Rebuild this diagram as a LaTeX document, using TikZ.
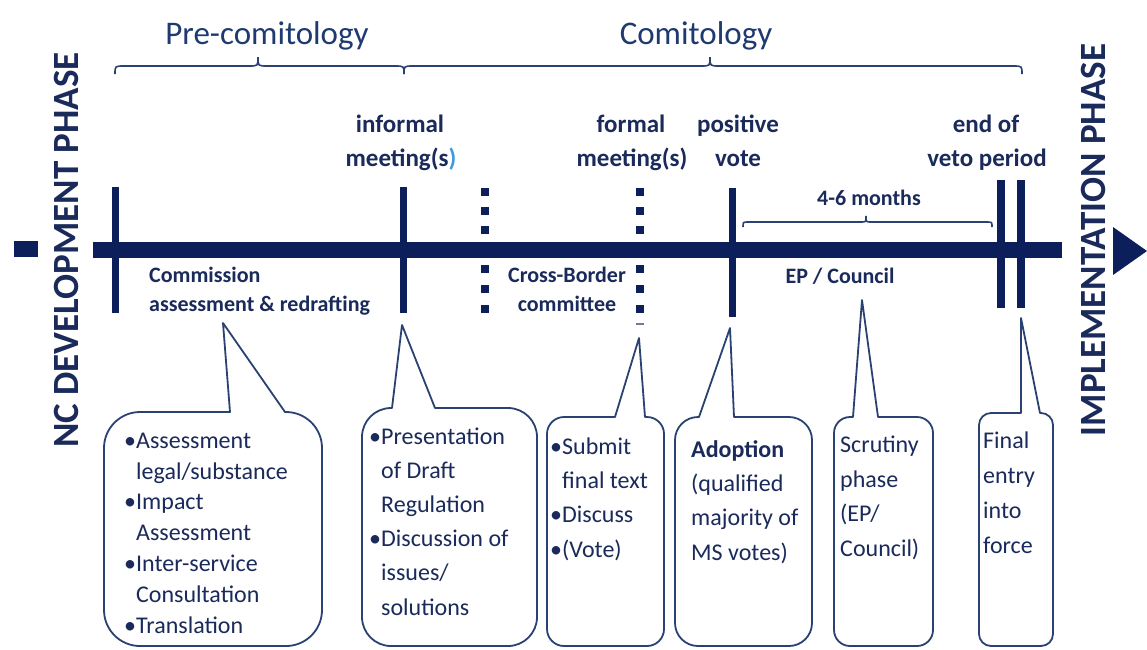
\documentclass[tikz,border=0pt]{standalone}
\usepackage{fontspec}
\setmainfont{Carlito}
\definecolor{navy}{HTML}{0C1F5B}
\definecolor{txt}{HTML}{1A2A5A}
\definecolor{head}{HTML}{1E3A70}
\definecolor{outl}{HTML}{2A4272}
\definecolor{lblue}{HTML}{3E9BDB}
\newcommand\bul{\makebox[9pt][l]{\hspace*{-3pt}\textbullet}}
% callout: L T R B r baseleft tipx tipy baseright
\newcommand\callout[9]{%
  \draw[calloutline] (#6,#2) -- (#7,#8) -- (#9,#2) -- ({#3-#5},#2)
   .. controls ({#3-0.448*#5},#2) and (#3,{#2+0.448*#5}) .. (#3,{#2+#5})
   -- (#3,{#4-#5})
   .. controls (#3,{#4-0.448*#5}) and ({#3-0.448*#5},#4) .. ({#3-#5},#4)
   -- ({#1+#5},#4)
   .. controls ({#1+0.448*#5},#4) and (#1,{#4-0.448*#5}) .. (#1,{#4-#5})
   -- (#1,{#2+#5})
   .. controls (#1,{#2+0.448*#5}) and ({#1+0.448*#5},#2) .. ({#1+#5},#2)
   -- cycle;}
% brace: x1 x2 xm yline yend ytip r
\newcommand\hbrace[7]{%
  \draw[bracelin] (#1,#5) .. controls (#1,#4) .. ({#1+#7},#4) -- ({#3-#7},#4)
   .. controls (#3,#4) .. (#3,#6) .. controls (#3,#4) .. ({#3+#7},#4)
   -- ({#2-#7},#4) .. controls (#2,#4) .. (#2,#5);}
\begin{document}
\begin{tikzpicture}[x=1pt,y=-1pt,
  bar/.style={fill=navy,draw=none},
  calloutline/.style={draw=outl,line width=1.8pt,line join=round},
  bracelin/.style={draw=outl,line width=1.6pt},
  lbl/.style={font=\bfseries\fontsize{25}{30}\selectfont,text=txt,inner sep=0pt,anchor=base},
  small/.style={font=\bfseries\fontsize{22}{26}\selectfont,text=txt,inner sep=0pt,anchor=base},
  heading/.style={font=\fontsize{33}{40}\selectfont,text=head,inner sep=0pt,anchor=base},
  phase/.style={font=\bfseries\fontsize{37}{44}\selectfont,text=txt,inner sep=0pt,rotate=90},
  ctext/.style={font=\fontsize{24}{#1}\selectfont,text=txt,inner sep=0pt,anchor=base west,align=left}]
\useasboundingbox[fill=white] (0,0) rectangle (1147,649);

% phase labels
\node[phase] (ncdev) at (66,250) {NC DEVELOPMENT PHASE};
\node[phase] (impl) at (1093,240) {IMPLEMENTATION PHASE};

% headings and braces
\node[heading] (pre) at (267,44) {Pre-comitology};
\node[heading] (comi) at (696,44) {Comitology};
\hbrace{115}{404}{258}{66}{74}{57}{9}
\hbrace{404}{1022}{710}{66}{74}{57}{9}

% timeline
\fill[bar] (14,241) rectangle (38,257);
\fill[bar] (93,242) rectangle (1062,258);
\fill[bar] (1113,227) -- (1147,251) -- (1113,275) -- cycle;
\fill[bar] (111.5,187) rectangle (118.5,313);
\fill[bar] (399.5,187) rectangle (406.5,313);
\fill[bar] (728.5,188) rectangle (735.5,317);
\fill[bar] (997,180) rectangle (1005,308);
\fill[bar] (1017,180) rectangle (1025,308);
\foreach \xx in {485,640}{
  \foreach \yy in {192,211,230,269,289,309}{
    \fill[bar] (\xx-4,\yy-4) rectangle (\xx+4,\yy+4);}}
\fill[outl!70] (636,323) rectangle (644,325);

% timeline labels
\node[lbl] (inf1) at (400,132) {informal};
\node[lbl] (inf2) at (401,166) {meeting(s\textcolor{lblue}{)}};
\node[lbl] (for1) at (631,132) {formal};
\node[lbl] (for2) at (632,166) {meeting(s)};
\node[lbl] (pos1) at (738,132) {positive};
\node[lbl] (pos2) at (738,166) {vote};
\node[lbl] (end1) at (986,132) {end of};
\node[lbl] (end2) at (987,166) {veto period};

\node[small,anchor=base west] (com1) at (149,282) {Commission};
\node[small,anchor=base west] (com2) at (149,311) {assessment \& redrafting};
\node[small] (cb1) at (567,282) {Cross-Border};
\node[small] (cb2) at (567,311) {committee};
\node[small] (months) at (869,205) {4-6 months};
\node[small] (epc) at (840,283) {EP / Council};
\hbrace{743}{992}{866}{222}{227}{216}{5}

% callouts
\callout{104}{412}{322}{646}{36}{230}{223}{323}{285}
\callout{362}{408}{537}{646}{29}{392}{402}{325}{435}
\callout{547}{417}{664}{646}{17}{615}{639}{338}{645}
\callout{675}{417}{812}{646}{23}{699}{730}{328}{734}
\callout{834}{417}{933}{646}{16}{853}{862}{300}{878}
\callout{979}{413}{1053}{646}{12}{1021}{1021}{318}{1040}

% text nodes: positioned at the baseline of their last line
\node[ctext=30.8] (t1) at (127,633) {\bul Assessment\\\hspace*{9pt}legal/substance\\\bul Impact\\\hspace*{9pt}Assessment\\\bul Inter-service\\\hspace*{9pt}Consultation\\\bul Translation};
\node[ctext=34.2] (t2) at (372,615) {\bul Presentation\\\hspace*{9pt}of Draft\\\hspace*{9pt}Regulation\\\bul Discussion of\\\hspace*{9pt}issues/\\\hspace*{9pt}solutions};
\node[ctext=34.3] (t3) at (553,557) {\bul Submit\\\hspace*{9pt}final text\\\bul Discuss\\\bul (Vote)};
\node[ctext=34.3] (t4) at (691,560) {\textbf{Adoption}\\(qualified\\majority of\\MS votes)};
\node[ctext=34.5] (t5) at (840,556) {Scrutiny\\phase\\(EP/\\Council)};
\node[ctext=35] (t6) at (983,553) {Final\\entry\\into\\force};
\end{tikzpicture}
\end{document}
